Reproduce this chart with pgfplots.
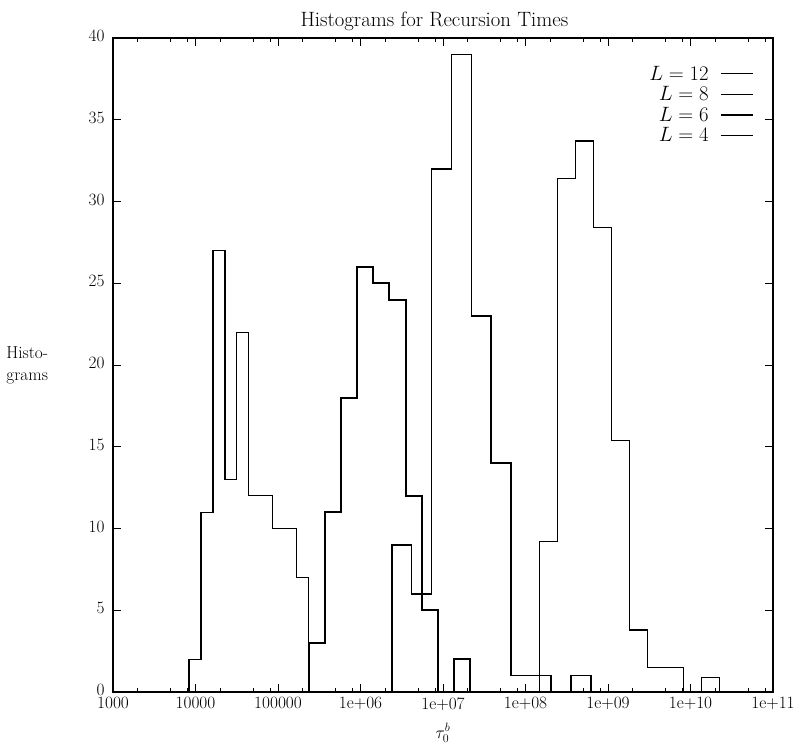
\documentclass[border=0pt]{standalone}
\usepackage{pgfplots}
\pgfplotsset{compat=1.18}
\begin{document}
\begin{tikzpicture}
\begin{axis}[
  name=ax,
  scale only axis, width=660pt, height=654pt,
  xmode=log, log basis x=10,
  xmin=1e3, xmax=1e11, ymin=0, ymax=40,
  xtick={1e3,1e4,1e5,1e6,1e7,1e8,1e9,1e10,1e11},
  xticklabels={1000,10000,100000,1e+06,1e+07,1e+08,1e+09,1e+10,1e+11},
  minor xtick={2e3,5e3,8e3,2e4,5e4,8e4,2e5,5e5,8e5,2e6,5e6,8e6,2e7,5e7,8e7,2e8,5e8,8e8,2e9,5e9,8e9,2e10,5e10,8e10},
  ytick={0,5,10,15,20,25,30,35,40},
  tick align=inside,
  major tick length=8pt, minor tick length=4pt,
  tick style={black, line width=1pt},
  axis line style={line width=1.2pt},
  tick label style={font=\LARGE},
  yticklabel style={xshift=-5pt, yshift=2pt},
  xticklabel style={yshift=-2pt},
  title={Histograms for Recursion Times},
  every axis title/.style={at={(axis description cs:0.487,1)}, anchor=base, yshift=11pt, font=\huge},
  xlabel={$\tau_0^b$},
  every axis x label/.style={at={(axis description cs:0.5,0)}, anchor=north, yshift=-28pt, font=\LARGE},
  ylabel={Histo-\\grams},
  every axis y label/.style={at={(axis description cs:-0.13,0.5)}, anchor=center, align=center, font=\LARGE},
  legend style={draw=none, fill=none, inner sep=0pt, at={(axis description cs:0.971,0.959)}, anchor=north east, font=\huge, row sep=2.8pt, column sep=10pt, nodes={inner sep=1pt}},
  legend cell align=right,
  legend plot pos=right,
  legend image code/.code={\draw[#1] (0pt,0pt) -- (32pt,0pt);},
]
% L = 12
\addplot[black, line width=1.3pt, const plot mark left] coordinates {
(1.470e8,0) (1.470e8,9.2) (2.429e8,31.4) (4.014e8,33.7) (6.635e8,28.4) (1.096e9,15.4) (1.812e9,3.8) (2.995e9,1.5) (8.179e9,0) (1.352e10,0.9) (2.234e10,0)
};
\addlegendentry{$L = 12$}
% L = 8
\addplot[black, line width=1.6pt, const plot mark left] coordinates {
(2.389e6,0) (2.389e6,9) (4.163e6,6) (7.254e6,32) (1.264e7,39) (2.203e7,23) (3.839e7,14) (6.691e7,1) (2.032e8,0) (3.541e8,1) (6.170e8,0)
};
\addlegendentry{$L = 8$}
% L = 6
\addplot[black, line width=2pt, const plot mark left] coordinates {
(2.369e5,0) (2.369e5,3) (3.713e5,11) (5.818e5,18) (9.120e5,26) (1.4295e6,25) (2.240e6,24) (3.512e6,12) (5.503e6,5) (8.625e6,0) (1.352e7,2) (2.119e7,0)
};
\addlegendentry{$L = 6$}
% L = 4
\addplot[black, line width=1.3pt, const plot mark left] coordinates {
(8364,0) (8364,2) (11660,11) (16250,27) (22720,13) (31670,22) (44140,12) (85760,10) (167100,7) (233000,0)
};
\addlegendentry{$L = 4$}
\end{axis}
\pgfresetboundingbox
\path[use as bounding box] (-113pt,-53pt) rectangle (690pt,692pt);
\end{tikzpicture}
\end{document}
